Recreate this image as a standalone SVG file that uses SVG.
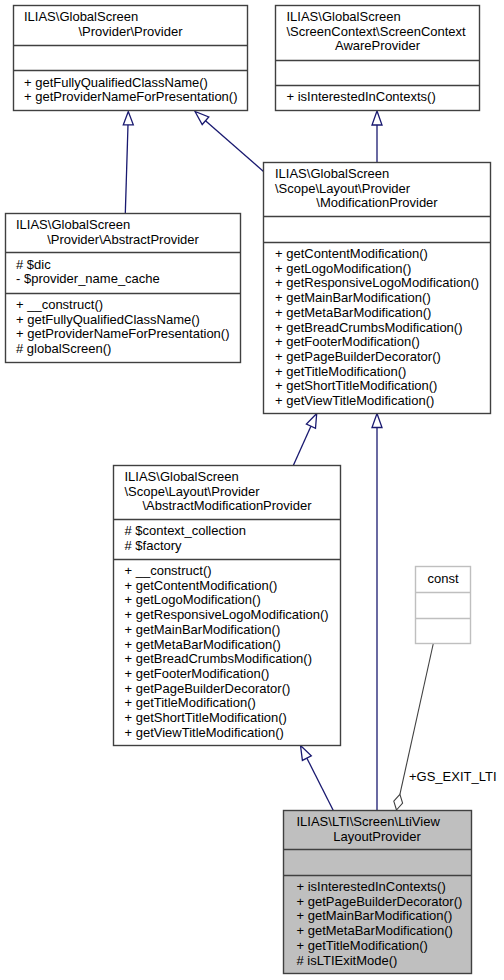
<svg xmlns="http://www.w3.org/2000/svg" width="504" height="980" viewBox="0 0 504 980">
<style>
text{font-family:"Liberation Sans",Arial,Helvetica,sans-serif;font-size:13px;fill:#000}
.c{text-anchor:middle}
.box{fill:#fff;stroke:#404040;stroke-width:1.4}
.sep{stroke:#404040;stroke-width:1.4}
.cur{fill:#bfbfbf;stroke:#404040;stroke-width:1.4}
.gbox{fill:#fff;stroke:#bfbfbf;stroke-width:1.4}
.gsep{stroke:#bfbfbf;stroke-width:1.4}
.e{fill:none;stroke:#191970;stroke-width:1.3}
.ah{fill:#fff;stroke:#191970;stroke-width:1.3}
.ea{fill:none;stroke:#404040;stroke-width:1.1}
.dm{fill:#fff;stroke:#404040;stroke-width:1.1}
</style>
<rect width="504" height="980" fill="#fff"/>
<g id="edges">
<path class="e" d="M125.3,213.5 L128,124.8"/>
<polygon class="ah" points="128.3,111.5 123.3,124.8 133.3,124.8"/>
<path class="e" d="M263.5,171.5 L205.5,120.7"/>
<polygon class="ah" points="195,111.5 202.2,124.5 208.8,116.9"/>
<path class="e" d="M377,162.5 L377,125"/>
<polygon class="ah" points="377,111 372,125 382,125"/>
<path class="e" d="M293.3,465.5 L310.9,426.2"/>
<polygon class="ah" points="316.7,413.5 306.4,424.1 315.5,428.3"/>
<path class="e" d="M377,810.5 L377,427.5"/>
<polygon class="ah" points="377,413.5 372,427.5 382,427.5"/>
<path class="e" d="M333.3,810.5 L306.9,758.2"/>
<polygon class="ah" points="300.5,745.5 302.4,760.4 311.3,755.9"/>
<path class="ea" d="M433.3,643.5 L399.9,794.4"/>
<polygon class="dm" points="396.5,810 393.8,801.2 399.9,794.4 402.6,803.2"/>
<text x="409" y="780.5">+GS_EXIT_LTI</text>
</g>
<g id="provider">
<rect class="box" x="13.5" y="5.5" width="234" height="105"/>
<line class="sep" x1="13.5" y1="45.5" x2="247.5" y2="45.5"/>
<line class="sep" x1="13.5" y1="70.5" x2="247.5" y2="70.5"/>
<text x="24" y="21">ILIAS\GlobalScreen</text>
<text class="c" x="130.5" y="35.7">\Provider\Provider</text>
<text x="24" y="86.5">+ getFullyQualifiedClassName()</text>
<text x="24" y="101.2">+ getProviderNameForPresentation()</text>
</g>
<g id="screencontextawareprovider">
<rect class="box" x="275.5" y="5.5" width="204" height="105"/>
<line class="sep" x1="275.5" y1="60.5" x2="479.5" y2="60.5"/>
<line class="sep" x1="275.5" y1="85.5" x2="479.5" y2="85.5"/>
<text x="286.5" y="21">ILIAS\GlobalScreen</text>
<text x="286.5" y="35.7">\ScreenContext\ScreenContext</text>
<text class="c" x="377.5" y="50.4">AwareProvider</text>
<text x="286.5" y="101.2">+ isInterestedInContexts()</text>
</g>
<g id="modificationprovider">
<rect class="box" x="263.5" y="162.5" width="227" height="251"/>
<line class="sep" x1="263.5" y1="216.5" x2="490.5" y2="216.5"/>
<line class="sep" x1="263.5" y1="242.5" x2="490.5" y2="242.5"/>
<text x="275" y="178">ILIAS\GlobalScreen</text>
<text x="275" y="192.7">\Scope\Layout\Provider</text>
<text class="c" x="377" y="207.4">\ModificationProvider</text>
<text x="275" y="258">+ getContentModification()</text>
<text x="275" y="272.7">+ getLogoModification()</text>
<text x="275" y="287.4">+ getResponsiveLogoModification()</text>
<text x="275" y="302.1">+ getMainBarModification()</text>
<text x="275" y="316.8">+ getMetaBarModification()</text>
<text x="275" y="331.5">+ getBreadCrumbsModification()</text>
<text x="275" y="346.2">+ getFooterModification()</text>
<text x="275" y="360.9">+ getPageBuilderDecorator()</text>
<text x="275" y="375.6">+ getTitleModification()</text>
<text x="275" y="390.3">+ getShortTitleModification()</text>
<text x="275" y="405">+ getViewTitleModification()</text>
</g>
<g id="abstractprovider">
<rect class="box" x="5.5" y="213.5" width="235" height="149"/>
<line class="sep" x1="5.5" y1="252.5" x2="240.5" y2="252.5"/>
<line class="sep" x1="5.5" y1="293.5" x2="240.5" y2="293.5"/>
<text x="16" y="229">ILIAS\GlobalScreen</text>
<text class="c" x="123" y="243.7">\Provider\AbstractProvider</text>
<text x="16" y="268.7"># $dic</text>
<text x="16" y="283.4">- $provider_name_cache</text>
<text x="16" y="309">+ __construct()</text>
<text x="16" y="323.7">+ getFullyQualifiedClassName()</text>
<text x="16" y="338.4">+ getProviderNameForPresentation()</text>
<text x="16" y="353.1"># globalScreen()</text>
</g>
<g id="abstractmodificationprovider">
<rect class="box" x="113.5" y="465.5" width="227" height="280"/>
<line class="sep" x1="113.5" y1="519.5" x2="340.5" y2="519.5"/>
<line class="sep" x1="113.5" y1="559.5" x2="340.5" y2="559.5"/>
<text x="124.5" y="481">ILIAS\GlobalScreen</text>
<text x="124.5" y="495.7">\Scope\Layout\Provider</text>
<text class="c" x="227" y="510.4">\AbstractModificationProvider</text>
<text x="124.5" y="535"># $context_collection</text>
<text x="124.5" y="549.7"># $factory</text>
<text x="124.5" y="575">+ __construct()</text>
<text x="124.5" y="589.7">+ getContentModification()</text>
<text x="124.5" y="604.4">+ getLogoModification()</text>
<text x="124.5" y="619.1">+ getResponsiveLogoModification()</text>
<text x="124.5" y="633.8">+ getMainBarModification()</text>
<text x="124.5" y="648.5">+ getMetaBarModification()</text>
<text x="124.5" y="663.2">+ getBreadCrumbsModification()</text>
<text x="124.5" y="677.9">+ getFooterModification()</text>
<text x="124.5" y="692.6">+ getPageBuilderDecorator()</text>
<text x="124.5" y="707.3">+ getTitleModification()</text>
<text x="124.5" y="722">+ getShortTitleModification()</text>
<text x="124.5" y="736.7">+ getViewTitleModification()</text>
</g>
<g id="const">
<rect class="gbox" x="415.5" y="566.5" width="55" height="77"/>
<line class="gsep" x1="415.5" y1="592.5" x2="470.5" y2="592.5"/>
<line class="gsep" x1="415.5" y1="618.5" x2="470.5" y2="618.5"/>
<text class="c" x="443" y="582.5">const</text>
</g>
<g id="ltiviewlayoutprovider">
<rect class="cur" x="283.5" y="810.5" width="188" height="163"/>
<line class="sep" x1="283.5" y1="849.5" x2="471.5" y2="849.5"/>
<line class="sep" x1="283.5" y1="875.5" x2="471.5" y2="875.5"/>
<text x="296.5" y="826">ILIAS\LTI\Screen\LtiView</text>
<text class="c" x="377" y="840.7">LayoutProvider</text>
<text x="296.5" y="891">+ isInterestedInContexts()</text>
<text x="296.5" y="905.7">+ getPageBuilderDecorator()</text>
<text x="296.5" y="920.4">+ getMainBarModification()</text>
<text x="296.5" y="935.1">+ getMetaBarModification()</text>
<text x="296.5" y="949.8">+ getTitleModification()</text>
<text x="296.5" y="964.5"># isLTIExitMode()</text>
</g>
</svg>
